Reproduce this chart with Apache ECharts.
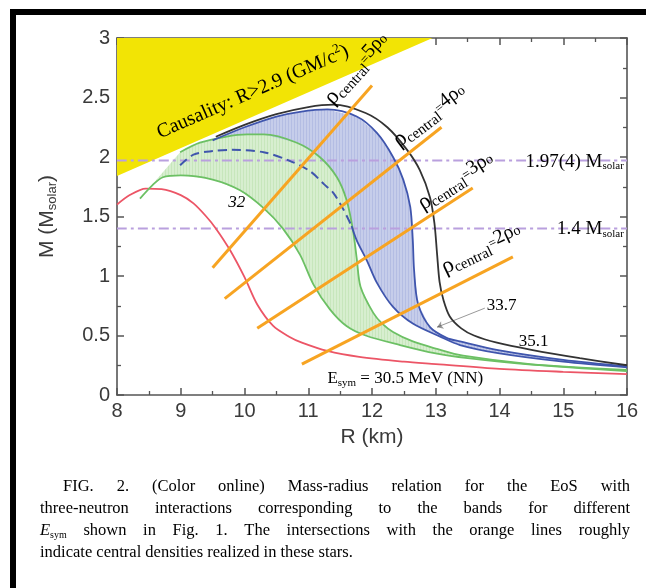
<!DOCTYPE html>
<html><head><meta charset="utf-8">
<script src="https://cdn.jsdelivr.net/npm/echarts@6/dist/echarts.min.js"></script>
<style>html,body{margin:0;padding:0;background:#fff}#c{width:646px;height:588px}</style>
</head><body><div id="c"></div>
<script>
// ---------- data (R in km, M in solar masses) ----------
const R_RANGE = [8, 16];
const M_RANGE = [0, 3];
const causalityRegion = [[8,1.84],[12.95,3.0],[8,3.0]];
const nnCurve = [[8,1.6],[8.2,1.68],[8.45,1.735],[8.7,1.73],[9,1.68],[9.2,1.61],[9.4,1.5],[9.55,1.4],[9.77,1.22],[10,0.99],[10.2,0.76],[10.45,0.58],[10.7,0.49],[10.9,0.44],[11.3,0.37],[11.8,0.32],[12.5,0.28],[13,0.26],[14,0.22],[15,0.195],[16,0.175]];
const green32 = [[8.36,1.65],[8.55,1.76],[8.72,1.83],[9,1.845],[9.5,1.81],[9.93,1.72],[10.3,1.57],[10.6,1.4],[10.87,1.18],[11.08,0.93],[11.34,0.72],[11.6,0.58],[11.9,0.5],[12.44,0.42],[13,0.35],[13.5,0.31],[14.5,0.255],[16,0.2]];
const greenUpper = [[8.99,2.04],[9.3,2.12],[9.7,2.17],[10.04,2.19],[10.3,2.19],[10.82,2.12],[11.18,2.0],[11.45,1.83],[11.6,1.64],[11.7,1.39],[11.76,1.15],[11.82,0.91],[12.02,0.69],[12.16,0.6],[12.33,0.53],[12.64,0.45],[13,0.39],[13.43,0.33],[14.48,0.26],[16,0.21]];
const blueInnerDashed = [[8.99,1.93],[9.2,2.02],[9.5,2.05],[9.8,2.06],[10.3,2.04],[10.7,1.97],[11.03,1.88],[11.25,1.77],[11.39,1.7],[11.55,1.56],[11.68,1.42]];
const blueInnerSolid = [[11.68,1.42],[11.76,1.3],[11.92,1.13],[12.08,0.94],[12.33,0.74],[12.64,0.6],[13.07,0.49],[13.38,0.42],[14,0.35],[15,0.28],[16,0.232]];
const blueOuter = [[9.5,2.14],[10,2.25],[10.5,2.34],[10.87,2.38],[11.3,2.4],[11.76,2.34],[12.08,2.2],[12.33,2.0],[12.49,1.81],[12.6,1.58],[12.64,1.3],[12.66,1.05],[12.72,0.77],[12.91,0.57],[13.17,0.48],[13.38,0.45],[14,0.375],[15,0.295],[16,0.24]];
const black351 = [[9.55,2.17],[10,2.27],[10.5,2.36],[11,2.42],[11.4,2.44],[11.9,2.37],[12.24,2.25],[12.55,2.06],[12.75,1.89],[12.91,1.66],[12.98,1.44],[13.02,1.19],[13.06,0.95],[13.12,0.8],[13.22,0.66],[13.4,0.56],[13.6,0.5],[13.96,0.44],[14.5,0.38],[15.26,0.31],[16,0.25]];
const rho5 = [[9.5,1.07],[12.0,2.6]];
const rho4 = [[9.69,0.81],[13.09,2.25]];
const rho3 = [[10.2,0.56],[13.58,1.74]];
const rho2 = [[10.9,0.26],[14.21,1.16]];
const mPulsar = [[8,1.97],[16,1.97]];
const mCanon = [[8,1.4],[16,1.4]];
const arrow337 = [[13.77,0.73],[13.02,0.57]];
const rhoLabels = [
  {n:'5', at:[11.47,2.39], line:rho5},
  {n:'4', at:[12.5,2.03], line:rho4},
  {n:'3', at:[12.86,1.5], line:rho3},
  {n:'2', at:[13.2,0.96], line:rho2}
];
const captionLines = [
  ['FIG.','2.','(Color','online)','Mass-radius','relation','for','the','EoS','with'],
  ['three-neutron','interactions','corresponding','to','the','bands','for','different'],
  ['E_sym','shown','in','Fig.','1.','The','intersections','with','the','orange','lines','roughly'],
  ['indicate','central','densities','realized','in','these','stars.']
];

// ---------- styling ----------
const SERIF = "'Liberation Serif','DejaVu Serif',serif";
const SANS = "'Liberation Sans',Arial,sans-serif";
const AX = '#555';
const chart = echarts.init(document.getElementById('c'));

function hatch(base, stripe){
  const c = document.createElement('canvas'); c.width = 3; c.height = 4;
  const x = c.getContext('2d'); x.fillStyle = base; x.fillRect(0,0,3,4);
  x.fillStyle = stripe; x.fillRect(0,0,1,4);
  return {image:c, repeat:'repeat'};
}
function band(pts, fill, z){
  return {type:'custom', z:z, silent:true, data:[0], animation:false,
    renderItem:function(params, api){
      return {type:'polygon', shape:{points:pts.map(p=>api.coord(p)), smooth:0}, style:{fill:fill}};
    }};
}
function curve(data, color, width, z, type){
  return {type:'line', data:data, z:z, symbol:'none', smooth:0.3, silent:true, animation:false,
    lineStyle:{color:color, width:width, type:type||'solid'}};
}
function axisCommon(extra){
  return Object.assign({type:'value', axisLine:{show:true, onZero:false, lineStyle:{color:AX, width:1.6}},
    axisTick:{show:true, inside:true, length:7, lineStyle:{color:AX, width:1.5}},
    minorTick:{show:true, splitNumber:2, length:4, lineStyle:{color:AX, width:1.3}},
    splitLine:{show:false}, minorSplitLine:{show:false}}, extra);
}

const option = {
  animation:false,
  grid:{left:117, right:19, top:38, bottom:193},
  xAxis:[
    axisCommon({min:R_RANGE[0], max:R_RANGE[1], interval:1, position:'bottom',
      axisLabel:{fontSize:20, color:'#3a3a3a', fontFamily:SANS, margin:6},
      name:'R (km)', nameLocation:'middle', nameGap:32,
      nameTextStyle:{fontSize:21, color:'#3a3a3a', fontFamily:SANS}}),
    axisCommon({min:R_RANGE[0], max:R_RANGE[1], interval:1, position:'top', axisLabel:{show:false}})
  ],
  yAxis:[
    axisCommon({min:M_RANGE[0], max:M_RANGE[1], interval:0.5, position:'left',
      axisLabel:{fontSize:20, color:'#3a3a3a', fontFamily:SANS, margin:7},
      name:'{a|M (M}{b|solar}{a|)}', nameLocation:'middle', nameGap:58, nameRotate:90,
      nameTextStyle:{rich:{a:{fontSize:21, color:'#3a3a3a', fontFamily:SANS},
                           b:{fontSize:13, color:'#3a3a3a', fontFamily:SANS, padding:[10,0,0,0]}}}}),
    axisCommon({min:M_RANGE[0], max:M_RANGE[1], interval:0.5, position:'right', axisLabel:{show:false}})
  ],
  series:[
    band(causalityRegion, '#f2e405', 1),
    band(blueOuter.concat(blueInnerSolid.slice().reverse(), blueInnerDashed.slice().reverse()), hatch('#c6cdea','#b4bde3'), 2),
    band(greenUpper.concat(green32.slice().reverse()), hatch('#d7eecf','#c7e6bc'), 3),
    curve(mPulsar, '#b9a0de', 2, 4, [10,4,3,4]),
    curve(mCanon, '#b9a0de', 2, 4, [10,4,3,4]),
    curve(nnCurve, '#ec5566', 1.8, 5),
    curve(green32, '#6cc064', 1.8, 5),
    curve(greenUpper, '#6cc064', 1.8, 5),
    curve(blueInnerDashed, '#3f55ad', 2, 5, [9,5]),
    curve(blueInnerSolid, '#3f55ad', 1.8, 5),
    curve(blueOuter, '#3f55ad', 1.8, 5),
    curve(black351, '#333', 1.8, 6),
    curve(rho5, '#f7a422', 3, 7),
    curve(rho4, '#f7a422', 3, 7),
    curve(rho3, '#f7a422', 3, 7),
    curve(rho2, '#f7a422', 3, 7),
    {type:'lines', coordinateSystem:'cartesian2d', z:8, silent:true, animation:false,
      symbol:['none','arrow'], symbolSize:6,
      lineStyle:{color:'#333', width:1}, data:[{coords:arrow337}]}
  ]
};
chart.setOption(option);

// ---------- annotations ----------
const px = p => chart.convertToPixel({xAxisIndex:0, yAxisIndex:0}, p);
const g = [];
// frame
g.push({type:'rect', shape:{x:10, y:9, width:636, height:6}, style:{fill:'#000'}, z:100});
g.push({type:'rect', shape:{x:10, y:9, width:6, height:579}, style:{fill:'#000'}, z:100});

// causality label
(function(){
  const a = px(causalityRegion[0]), b = px(causalityRegion[1]);
  const ang = Math.atan2(a[1]-b[1], b[0]-a[0]);
  const p = px([8.72, 2.1]);
  g.push({type:'text', x:p[0], y:p[1], rotation:ang, z:50,
    style:{text:'{a|Causality: R>2.9 (GM/c}{b|2}{a|)}', verticalAlign:'bottom', align:'left',
      rich:{a:{fontSize:20, fontFamily:SERIF, color:'#59617a'}, b:{fontSize:13, fontFamily:SERIF, color:'#59617a', padding:[0,0,12,0]}}}});
})();
// rho labels
rhoLabels.forEach(L=>{
  const a = px(L.line[0]), b = px(L.line[1]);
  const ang = Math.atan2(a[1]-b[1], b[0]-a[0]) - 0.02;
  const p = px(L.at);
  g.push({type:'text', x:p[0], y:p[1], rotation:ang, z:50,
    style:{text:'{r|ρ}{s|central}{e|=}{n|'+L.n+'ρ}{z|o}', verticalAlign:'bottom', align:'left',
      rich:{r:{fontSize:23, fontFamily:SERIF, color:'#444'},
            s:{fontSize:15, fontFamily:SERIF, color:'#444', padding:[11,0,0,0]},
            e:{fontSize:13, fontFamily:SERIF, color:'#444', padding:[0,0,2,0]},
            n:{fontSize:20, fontFamily:SERIF, color:'#444', padding:[0,0,7,0]},
            z:{fontSize:14, fontFamily:SERIF, color:'#444', padding:[0,0,3,0]}}}});
});
// other labels
(function(){
  const rich = {a:{fontSize:19, fontFamily:SERIF, color:'#444'}, b:{fontSize:11, fontFamily:SERIF, color:'#444', padding:[10,0,0,0]}};
  let p = px([15.95, 1.97]);
  g.push({type:'text', x:p[0], y:p[1]+1, z:50, style:{text:'{a|1.97(4) M}{b|solar}', rich:rich, align:'right', verticalAlign:'middle'}});
  p = px([15.95, 1.4]);
  g.push({type:'text', x:p[0], y:p[1]+1, z:50, style:{text:'{a|1.4 M}{b|solar}', rich:rich, align:'right', verticalAlign:'middle'}});
  const plain = {a:{fontSize:17, fontFamily:SERIF, color:'#444'}};
  p = px([9.88, 1.62]);
  g.push({type:'text', x:p[0], y:p[1], z:50, style:{text:'{a|32}', rich:{a:{fontSize:17, fontFamily:SERIF, fontStyle:'italic', color:'#444'}}, align:'center', verticalAlign:'middle'}});
  p = px([13.8, 0.75]);
  g.push({type:'text', x:p[0], y:p[1], z:50, style:{text:'{a|33.7}', rich:plain, align:'left', verticalAlign:'middle'}});
  p = px([14.3, 0.43]);
  g.push({type:'text', x:p[0], y:p[1]-2, z:50, style:{text:'{a|35.1}', rich:plain, align:'left', verticalAlign:'middle'}});
  p = px([11.3, 0.14]);
  g.push({type:'text', x:p[0], y:p[1], z:50, style:{text:'{a|E}{b|sym}{a| = 30.5 MeV (NN)}',
    rich:{a:{fontSize:17, fontFamily:SERIF, color:'#444'}, b:{fontSize:11, fontFamily:SERIF, color:'#444', padding:[9,0,0,0]}},
    align:'left', verticalAlign:'middle'}});
})();

// caption (justified)
const ctx = document.createElement('canvas').getContext('2d');
function meas(t, size, italic){ ctx.font = (italic?'italic ':'') + size + 'px ' + SERIF; return ctx.measureText(t).width; }
const CF = 16.5;
function token(w){
  if (w === 'E_sym') return {text:'{i|E}{s|sym}', width: meas('E',CF,true)+meas('sym',10)};
  if (w === '1.') return {text:'{b|1}{n|.}', width: meas('1.',CF)};
  return {text:'{n|'+w+'}', width: meas(w,CF)};
}
const capRich = {n:{fontSize:CF, fontFamily:SERIF, color:'#222'},
  i:{fontSize:CF, fontFamily:SERIF, fontStyle:'italic', color:'#222'},
  s:{fontSize:10, fontFamily:SERIF, color:'#222', padding:[8,0,0,0]},
  b:{fontSize:CF, fontFamily:SERIF, color:'#4a66e0'}};
const capY = [487, 509, 531, 553];
captionLines.forEach((words, li)=>{
  const x0 = li===0 ? 63 : 40, x1 = 630;
  const toks = words.map(token);
  const total = toks.reduce((s,t)=>s+t.width, 0);
  const gap = li===3 ? meas(' ',CF) : (x1-x0-total)/(toks.length-1);
  let x = x0;
  toks.forEach(t=>{
    g.push({type:'text', x:x, y:capY[li], z:50, style:{text:t.text, rich:capRich, align:'left', verticalAlign:'middle'}});
    x += t.width + gap;
  });
});

chart.setOption({graphic:g});
</script></body></html>
